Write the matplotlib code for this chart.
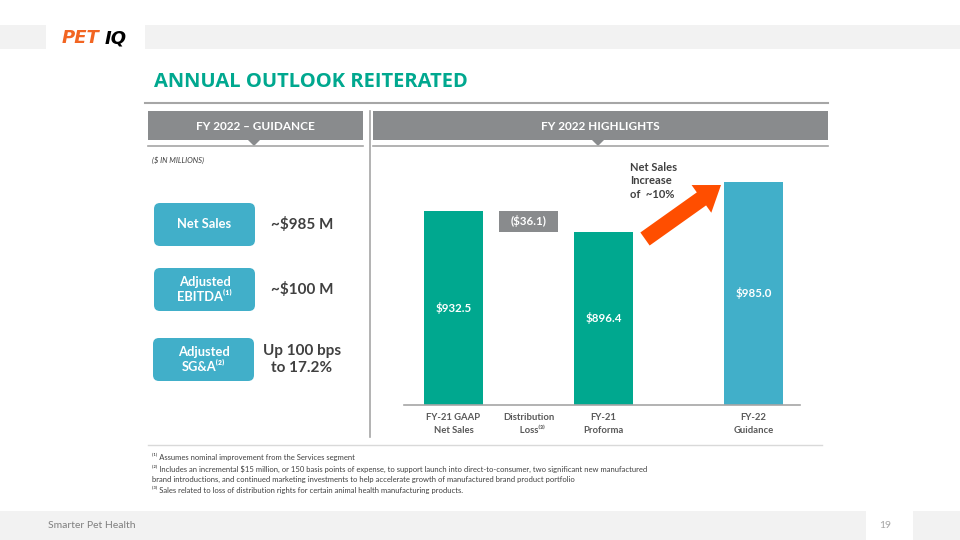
import matplotlib
matplotlib.use("Agg")
import matplotlib.pyplot as plt
from matplotlib.patches import Rectangle, FancyBboxPatch, FancyArrow, Polygon

plt.rcParams['font.family'] = ['Lato', 'DejaVu Sans']

# ---------------- data ----------------
categories = ["FY-21 GAAP\nNet Sales", "Distribution\n   Loss\u207d\u00b3\u207e", "FY-21\nProforma", "", "FY-22\nGuidance"]
positions = [0, 1, 2, 3, 4]
gaap_sales = 932.5
distribution_loss = 36.1
proforma_sales = 896.4
guidance_sales = 985.0
bar_labels = ["$932.5", "($36.1)", "$896.4", "$985.0"]

guidance_items = ["Net Sales", "Adjusted\nEBITDA\u207d\u00b9\u207e", "Adjusted\nSG&A\u207d\u00b2\u207e"]
guidance_values = ["~$985 M", "~$100 M", "Up 100 bps\nto 17.2%"]

footnotes = [
    "\u207d\u00b9\u207e Assumes nominal improvement from the Services segment",
    "\u207d\u00b2\u207e Includes an incremental $15 million, or 150 basis points of expense, to support launch into direct-to-consumer, two significant new manufactured\nbrand introductions, and continued marketing investments to help accelerate growth of manufactured brand product portfolio",
    "\u207d\u00b3\u207e Sales related to loss of distribution rights for certain animal health manufacturing products.",
]

TEAL = "#00a88f"
BLUE = "#41afc9"
GRAY = "#898b8d"
DARK = "#404040"
ORANGE = "#ff4e00"
LIGHT = "#f2f2f2"

fig = plt.figure(figsize=(9.6, 5.4), dpi=100)
fig.patch.set_facecolor("white")

# overlay in pixel coordinates
ov = fig.add_axes([0, 0, 1, 1])
ov.set_xlim(0, 960)
ov.set_ylim(540, 0)
ov.axis("off")

# top bars
ov.add_patch(Rectangle((0, 25), 46, 24, color=LIGHT, lw=0))
ov.add_patch(Rectangle((145, 25), 815, 24, color=LIGHT, lw=0))
ov.text(62, 38, "PET", color="#f26522", fontsize=13, fontweight="heavy", style="italic",
        va="center", ha="left", family=["DejaVu Sans"])
ov.text(105, 38, "IQ", color="black", fontsize=13, fontweight="heavy", style="italic",
        va="center", ha="left", family=["DejaVu Sans"])

# title
ov.text(154, 82, "ANNUAL OUTLOOK REITERATED", color=TEAL, fontsize=14.5, fontweight="bold",
        va="center", ha="left", family=["Open Sans", "DejaVu Sans"])
ov.plot([145, 828], [103, 103], color="#a6a6a6", lw=1.5)

# header bars
ov.add_patch(Rectangle((148, 111), 215, 29, color=GRAY, lw=0))
ov.add_patch(Rectangle((373, 111), 455, 29, color=GRAY, lw=0))
ov.text(255.5, 126, "FY 2022 \u2013 GUIDANCE", color="white", fontsize=8.5, fontweight="bold",
        ha="center", va="center")
ov.text(600.5, 126, "FY 2022 HIGHLIGHTS", color="white", fontsize=8.5, fontweight="bold",
        ha="center", va="center")
ov.plot([148, 363], [146, 146], color="#a6a6a6", lw=1.2)
ov.plot([373, 828], [146, 146], color="#a6a6a6", lw=1.2)
ov.add_patch(Polygon([[248, 140], [260, 140], [254, 146]], color=GRAY, lw=0))
ov.add_patch(Polygon([[592, 140], [604, 140], [598, 146]], color=GRAY, lw=0))
ov.plot([369.5, 369.5], [111, 437], color="#a6a6a6", lw=1.2)

ov.text(152, 160, "($ IN MILLIONS)", color=DARK, fontsize=5.5, style="italic",
        ha="left", va="center")

# guidance boxes
box_y = [203, 268, 338]
box_x = [154, 154, 153]
for bx, by, lab, val in zip(box_x, box_y, guidance_items, guidance_values):
    ov.add_patch(FancyBboxPatch((bx, by), 101, 43, boxstyle="round,pad=0,rounding_size=6",
                                fc=BLUE, ec="none"))
    ov.text(bx + 50.5, by + 21.5, lab, color="white", fontsize=9.3, fontweight="bold",
            ha="center", va="center", linespacing=1.2)
    ov.text(302, by + 21.5, val, color=DARK, fontsize=11, fontweight="bold",
            ha="center", va="center", linespacing=1.3)

# arrow annotation
ov.add_patch(FancyArrow(645, 239, 76, -54, width=16, head_width=34, head_length=24,
                        length_includes_head=True, color=ORANGE, lw=0))
ov.text(630, 181, "Net Sales\nIncrease\nof  ~10%", color=DARK, fontsize=8, fontweight="bold",
        ha="left", va="center", linespacing=1.3)

# footnotes
ov.plot([148, 822], [445, 445], color="#d9d9d9", lw=1.0)
ov.text(152, 457, footnotes[0], color=DARK, fontsize=5.5, ha="left", va="center")
ov.text(152, 474, footnotes[1], color=DARK, fontsize=5.5, ha="left", va="center", linespacing=1.5)
ov.text(152, 490, footnotes[2], color=DARK, fontsize=5.5, ha="left", va="center")

# bottom bar
ov.add_patch(Rectangle((0, 511), 866, 29, color=LIGHT, lw=0))
ov.add_patch(Rectangle((913, 511), 47, 29, color=LIGHT, lw=0))
ov.text(48, 525, "Smarter Pet Health", color="#7f7f7f", fontsize=7.5, ha="left", va="center")
ov.text(885, 525, "19", color="#a6a6a6", fontsize=7.5, ha="center", va="center")

# ---------------- bar chart ----------------
ax = fig.add_axes([404 / 960, (540 - 405) / 540, 396 / 960, 245 / 540])
ax.set_zorder(2)
ax.patch.set_alpha(0)
ymin, ymax = 590, 1023
ax.set_ylim(ymin, ymax)
ax.set_xlim(-0.66, 4.62)

w = 0.79
ax.bar(positions[0], gaap_sales, width=w, color=TEAL)
ax.bar(positions[1], distribution_loss, bottom=proforma_sales, width=w, color=GRAY)
ax.bar(positions[2], proforma_sales, width=w, color=TEAL)
ax.bar(positions[4], guidance_sales, width=w, color=BLUE)

ax.text(positions[0], (ymin + gaap_sales) / 2, bar_labels[0], color="white", fontsize=8.3,
        fontweight="bold", ha="center", va="center")
ax.text(positions[1], proforma_sales + distribution_loss / 2, bar_labels[1], color="white",
        fontsize=8.3, fontweight="bold", ha="center", va="center")
ax.text(positions[2], (ymin + proforma_sales) / 2, bar_labels[2], color="white", fontsize=8.3,
        fontweight="bold", ha="center", va="center")
ax.text(positions[4], (ymin + guidance_sales) / 2, bar_labels[3], color="white", fontsize=8.3,
        fontweight="bold", ha="center", va="center")

for s in ["top", "right", "left"]:
    ax.spines[s].set_visible(False)
ax.spines["bottom"].set_color("#a6a6a6")
ax.spines["bottom"].set_linewidth(1.2)
ax.set_yticks([])
ax.set_xticks(positions)
ax.set_xticklabels(categories, fontsize=6.8, color="#595959", fontweight="bold", linespacing=1.5)
ax.tick_params(axis="x", length=0, pad=6)

fig.savefig("out.png", dpi=100, facecolor="white")
